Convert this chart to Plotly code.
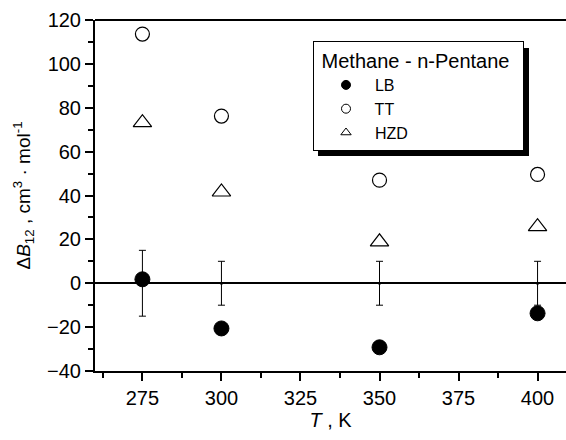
import plotly.graph_objects as go

T = [275, 300, 350, 400]
LB = [1.8, -20.6, -29.2, -13.7]
TT = [113.6, 76.2, 47.0, 49.6]
HZD = [73.2, 41.6, 18.9, 25.8]
ERR_Y = [0, 0, 0, 0]
ERR = [15, 10, 10, 10]

FONT = "Liberation Sans, Arial, Helvetica, sans-serif"

fig = go.Figure()

# error bars around zero
fig.add_trace(go.Scatter(x=T, y=ERR_Y, mode="markers", showlegend=False,
                         marker=dict(size=3, color="black"),
                         error_y=dict(type="data", array=ERR, visible=True,
                                      color="black", thickness=1, width=3.5)))

fig.add_trace(go.Scatter(x=T, y=LB, mode="markers", showlegend=False,
                         marker=dict(symbol="circle", size=15, color="black",
                                     line=dict(color="black", width=1))))
fig.add_trace(go.Scatter(x=T, y=TT, mode="markers", showlegend=False,
                         marker=dict(symbol="circle-open", size=14, color="black",
                                     line=dict(color="black", width=1.2))))
fig.add_trace(go.Scatter(x=T, y=HZD, mode="markers", showlegend=False,
                         marker=dict(symbol="triangle-up-open", size=16, color="black",
                                     line=dict(color="black", width=1.2))))

# legend entries
for name, sym in [("LB", "circle"), ("TT", "circle-open"), ("HZD", "triangle-up-open")]:
    fig.add_trace(go.Scatter(x=[None], y=[None], mode="markers", name="  " + name,
                             marker=dict(symbol=sym, size=9, color="black",
                                         line=dict(color="black", width=1))))

X0, X1, Y0, Y1 = 95, 566, 20, 371
def px(x):
    return (x - X0) / (X1 - X0)
def py(y):
    return (Y1 - y) / (Y1 - Y0)

# legend shadow
fig.add_shape(type="rect", xref="paper", yref="paper",
              x0=px(318), x1=px(529), y0=py(156), y1=py(48),
              fillcolor="black", line=dict(width=0), layer="above")
# top border
fig.add_shape(type="line", xref="paper", yref="paper", x0=0, x1=1, y0=1, y1=1,
              line=dict(color="black", width=2))

fig.update_layout(
    width=566, height=440,
    margin=dict(l=95, r=0, t=20, b=69),
    plot_bgcolor="white", paper_bgcolor="white",
    font=dict(family=FONT, size=20, color="black"),
    showlegend=True,
    legend=dict(
        title=dict(text="\u00a0Methane - n-Pentane\u00a0\u00a0", font=dict(size=20)),
        font=dict(size=16),
        x=px(313), y=py(41), xanchor="left", yanchor="top",
        bgcolor="white", bordercolor="black", borderwidth=1,
        tracegroupgap=0, itemwidth=30, indentation=12,
    ),
    xaxis=dict(
        range=[260, 409], tickmode="linear", tick0=275, dtick=25,
        ticks="outside", ticklen=8, tickwidth=2, tickcolor="black",
        showline=True, linecolor="black", linewidth=2, showgrid=False, zeroline=False,
        minor=dict(dtick=12.5, tick0=262.5, ticks="outside", ticklen=5, tickwidth=2, tickcolor="black"),
        title=dict(text="<i>T</i> , K", font=dict(size=20), standoff=4),
    ),
    yaxis=dict(
        range=[-40, 120], tickmode="linear", tick0=-40, dtick=20,
        ticks="outside", ticklen=8, tickwidth=2, tickcolor="black",
        showline=True, linecolor="black", linewidth=2, showgrid=False,
        zeroline=True, zerolinecolor="black", zerolinewidth=2,
        minor=dict(dtick=10, ticks="outside", ticklen=5, tickwidth=2, tickcolor="black"),
        title=dict(text="Δ<i>B</i><sub>12</sub> , cm<sup>3</sup> · mol<sup>-1</sup>",
                   font=dict(size=19), standoff=11),
    ),
)

fig.write_html("out.html")
